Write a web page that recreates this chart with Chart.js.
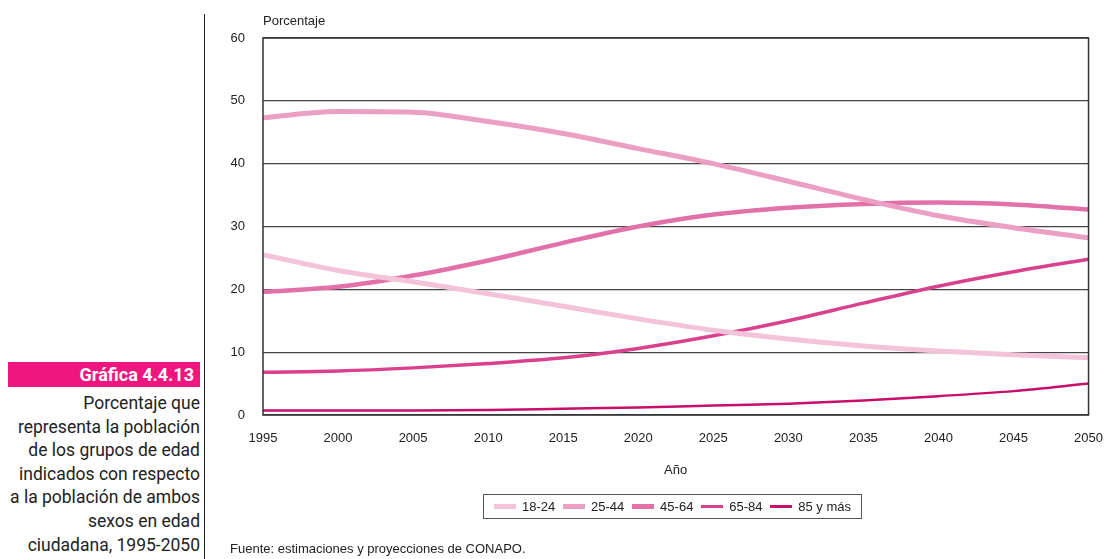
<!DOCTYPE html>
<html lang="es">
<head>
<meta charset="utf-8">
<script src="https://cdn.jsdelivr.net/npm/chart.js@4.4.1/dist/chart.umd.min.js"></script>
<style>
  html, body { margin: 0; padding: 0; background: #fff; }
  body { width: 1111px; height: 559px; position: relative; overflow: hidden; font-family: "Liberation Sans", Arial, sans-serif; color: #222; }
  .divider { position: absolute; left: 204px; top: 14px; width: 1px; height: 545px; background: #222; }
  .tag { position: absolute; left: 8px; top: 362px; width: 192px; height: 25px; background: #f0167f; color: #fff;
    font-family: "Roboto", sans-serif; font-weight: bold; font-size: 18px; line-height: 25px; text-align: right; box-sizing: border-box; padding-right: 6px; }
  .caption { position: absolute; left: 0; top: 392px; width: 200px; text-align: right;
    font-family: "Roboto", sans-serif; font-size: 17.5px; line-height: 23.6px; color: #222; }
  .chart-wrap { position: absolute; left: 215px; top: 0; width: 896px; height: 559px; }
  .ylabel { position: absolute; left: 263px; top: 13px; font-size: 13px; }
  .xlabel { position: absolute; left: 664px; top: 462px; font-size: 13px; }
  .legend { position: absolute; left: 483px; top: 494px; width: 379px; height: 25px; box-sizing: border-box; border: 1px solid #555;
    display: flex; align-items: center; justify-content: space-around; padding: 0 6px; font-size: 13px; }
  .legend-item { display: flex; align-items: center; }
  .swatch { width: 22px; margin-right: 6px; }
  .source { position: absolute; left: 230px; top: 541px; font-size: 13px; }
</style>
</head>
<body>
<div class="divider"></div>
<div class="tag">Gráfica 4.4.13</div>
<div class="caption">Porcentaje que<br>representa la población<br>de los grupos de edad<br>indicados con respecto<br>a la población de ambos<br>sexos en edad<br>ciudadana, 1995-2050</div>
<div class="chart-wrap"><canvas id="chart"></canvas></div>
<div class="ylabel">Porcentaje</div>
<div class="xlabel">Año</div>
<div class="legend" id="legend"></div>
<div class="source">Fuente: estimaciones y proyecciones de CONAPO.</div>
<script>
const years = [1995, 2000, 2005, 2010, 2015, 2020, 2025, 2030, 2035, 2040, 2045, 2050];
const yTicks = [0, 10, 20, 30, 40, 50, 60];

const age18to24 = [25.5, 23.0, 21.2, 19.3, 17.3, 15.3, 13.5, 12.1, 11.0, 10.2, 9.6, 9.1];
const age25to44 = [47.3, 48.3, 48.2, 46.7, 44.8, 42.4, 40.0, 37.2, 34.3, 31.7, 29.8, 28.2];
const age45to64 = [19.6, 20.4, 22.2, 24.6, 27.4, 30.0, 31.9, 33.0, 33.6, 33.8, 33.5, 32.7];
const age65to84 = [6.8, 7.0, 7.5, 8.2, 9.1, 10.6, 12.6, 15.0, 17.8, 20.5, 22.8, 24.8];
const age85plus = [0.7, 0.7, 0.7, 0.8, 1.0, 1.2, 1.5, 1.8, 2.3, 3.0, 3.8, 5.0];

const SERIES = [
  { label: '18-24', values: age18to24, color: '#f3c3d9', width: 5 },
  { label: '25-44', values: age25to44, color: '#eb9fc5', width: 5 },
  { label: '45-64', values: age45to64, color: '#e271aa', width: 4.5 },
  { label: '65-84', values: age65to84, color: '#d9418f', width: 3.5 },
  { label: '85 y más', values: age85plus, color: '#c70f6b', width: 2.5 },
];

const frame = {
  id: 'frame',
  afterDatasetsDraw(chart) {
    const { ctx, chartArea: a } = chart;
    ctx.save();
    ctx.strokeStyle = '#333';
    ctx.lineWidth = 1.5;
    ctx.strokeRect(a.left, a.top, a.right - a.left, a.bottom - a.top);
    ctx.restore();
  },
};

new Chart(document.getElementById('chart'), {
  type: 'line',
  data: {
    datasets: SERIES.map(s => ({
      label: s.label,
      data: years.map((y, i) => ({ x: y, y: s.values[i] })),
      borderColor: s.color,
      borderWidth: s.width,
      pointRadius: 0,
      tension: 0.4,
      cubicInterpolationMode: 'monotone',
      borderCapStyle: 'butt',
    })),
  },
  options: {
    responsive: true,
    maintainAspectRatio: false,
    animation: false,
    layout: { padding: { left: 0, right: 18, top: 38, bottom: 0 } },
    plugins: { legend: { display: false }, tooltip: { enabled: false } },
    scales: {
      x: {
        type: 'linear',
        min: 1995,
        max: 2050,
        grid: { display: false },
        border: { display: false },
        afterBuildTicks: scale => { scale.ticks = years.map(v => ({ value: v })); },
        afterFit: scale => { scale.height = 144; },
        ticks: {
          padding: 8,
          color: '#222',
          maxRotation: 0,
          font: { family: 'Liberation Sans', size: 13 },
          callback: v => String(v),
        },
      },
      y: {
        min: 0,
        max: 60,
        afterBuildTicks: scale => { scale.ticks = yTicks.map(v => ({ value: v })); },
        afterFit: scale => { scale.width = 48; },
        grid: { color: '#444', lineWidth: 1.2, drawTicks: false },
        border: { display: false },
        ticks: {
          padding: 18,
          color: '#222',
          font: { family: 'Liberation Sans', size: 13 },
        },
      },
    },
  },
  plugins: [frame],
});

const legend = document.getElementById('legend');
SERIES.forEach(s => {
  const item = document.createElement('div');
  item.className = 'legend-item';
  item.innerHTML = `<div class="swatch" style="height:${s.width}px;background:${s.color}"></div><span>${s.label}</span>`;
  legend.appendChild(item);
});
</script>
</body>
</html>
